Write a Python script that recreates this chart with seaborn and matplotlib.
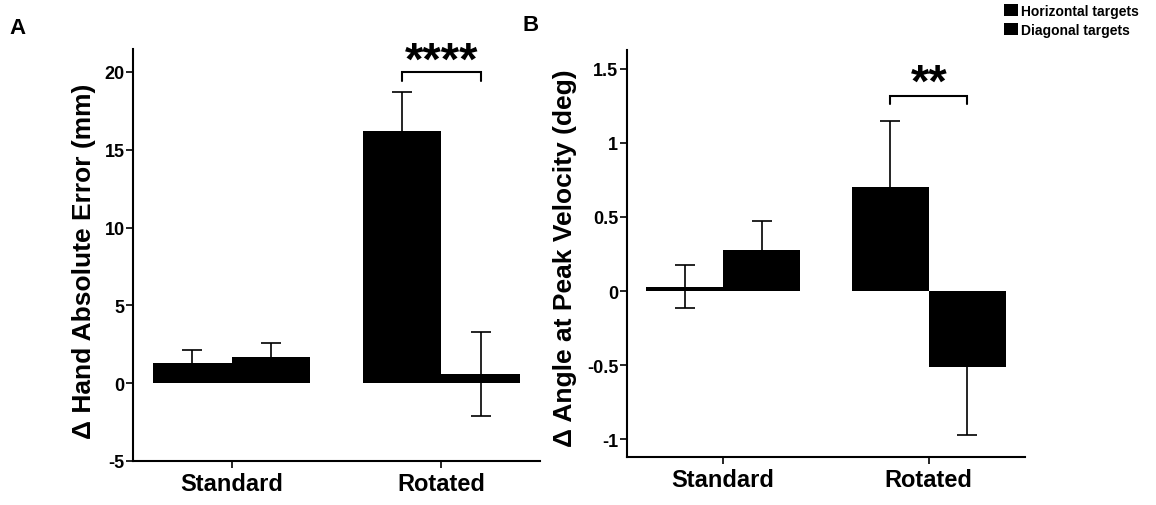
import numpy as np
import pandas as pd
import matplotlib
matplotlib.use("Agg")
import matplotlib.pyplot as plt
import seaborn as sns
from matplotlib.ticker import FuncFormatter

# data
conditions = ["Standard", "Rotated"]
targets = ["Horizontal targets", "Diagonal targets"]

err_horiz = [1.3, 16.2]
err_diag = [1.7, 0.6]
err_horiz_sem = [0.8, 2.5]
err_diag_sem = [0.9, 2.7]

ang_horiz = [0.03, 0.70]
ang_diag = [0.28, -0.51]
ang_horiz_sem = [0.145, 0.45]
ang_diag_sem = [0.19, 0.46]

stars_A = "****"
stars_B = "**"

sns.set_style("ticks")
plt.rcParams["font.family"] = ["Liberation Sans", "DejaVu Sans"]
plt.rcParams["font.weight"] = "bold"
plt.rcParams["axes.unicode_minus"] = False
for k in ["text.color", "axes.labelcolor", "xtick.color", "ytick.color",
          "axes.edgecolor"]:
    plt.rcParams[k] = "black"

fig = plt.figure(figsize=(11.56, 5.06), dpi=100)
axA = fig.add_axes([0.115, 0.087, 0.352, 0.815])
axB = fig.add_axes([0.542, 0.095, 0.345, 0.805])


def make_df(h, d, hs, ds):
    return pd.DataFrame({
        "cond": conditions * 2,
        "target": [targets[0]] * 2 + [targets[1]] * 2,
        "val": h + d,
        "sem": hs + ds,
    })


def panel(ax, df, ylim, yticks, ylabel, stars, br_y, br_drop, star_y, label_xy):
    sns.barplot(data=df, x="cond", y="val", hue="target", hue_order=targets,
                palette=["black", "black"], width=0.75, errorbar=None,
                saturation=1, linewidth=0, ax=ax, legend=True)
    # error bars at the bar centres
    for cont, t in zip(ax.containers, targets):
        sub = df[df.target == t]
        xs = [p.get_x() + p.get_width() / 2 for p in cont.patches]
        ax.errorbar(xs, sub.val.values, yerr=sub["sem"].values, fmt="none",
                    ecolor="black", elinewidth=1.2, capsize=7, capthick=1.2,
                    zorder=1)
    # significance bracket on Rotated
    x1 = ax.containers[0].patches[1]
    x2 = ax.containers[1].patches[1]
    xa = x1.get_x() + x1.get_width() / 2
    xb = x2.get_x() + x2.get_width() / 2
    ax.plot([xa, xa, xb, xb], [br_y - br_drop, br_y, br_y, br_y - br_drop],
            color="black", lw=1.5, solid_joinstyle="miter")
    ax.text((xa + xb) / 2, star_y, stars, ha="center", va="baseline",
            fontsize=34, fontweight="bold")

    ax.set_ylim(*ylim)
    ax.set_xlim(-0.47, 1.47)
    ax.set_yticks(yticks)
    ax.yaxis.set_major_formatter(FuncFormatter(lambda v, p: "%g" % v))
    ax.set_xlabel("")
    ax.set_ylabel(ylabel, fontsize=19, fontweight="bold")
    ax.yaxis.set_label_coords(*label_xy)
    ax.tick_params(axis="y", labelsize=13, length=5, width=1.2, pad=1)
    ax.tick_params(axis="x", labelsize=17, length=5, width=1.2, pad=3)
    for lab in ax.get_xticklabels() + ax.get_yticklabels():
        lab.set_fontweight("bold")
    sns.despine(ax=ax)
    for s in ["left", "bottom"]:
        ax.spines[s].set_linewidth(1.5)


dfA = make_df(err_horiz, err_diag, err_horiz_sem, err_diag_sem)
dfB = make_df(ang_horiz, ang_diag, ang_horiz_sem, ang_diag_sem)

panel(axA, dfA, (-5, 21.5), [-5, 0, 5, 10, 15, 20],
      "\u0394 Hand Absolute Error (mm)", stars_A, 20.0, 0.6, 19.9,
      (-0.091, 0.486))
panel(axB, dfB, (-1.12, 1.63), [-1, -0.5, 0, 0.5, 1, 1.5],
      "\u0394 Angle at Peak Velocity (deg)", stars_B, 1.32, 0.06, 1.32,
      (-0.123, 0.49))

handles, labels = axA.get_legend_handles_labels()
for ax in (axA, axB):
    if ax.get_legend() is not None:
        ax.get_legend().remove()
fig.legend(handles, labels, loc="upper left",
           bbox_to_anchor=(1004 / 1156, 1 - 5 / 506), frameon=False,
           prop={"weight": "bold", "size": 10},
           handlelength=1.0, handleheight=1.0, handletextpad=0.2,
           labelspacing=0.35, borderpad=0, borderaxespad=0)

fig.text(9 / 1156, 1 - 34 / 506, "A", fontsize=16, fontweight="bold")
fig.text(522 / 1156, 1 - 31 / 506, "B", fontsize=16, fontweight="bold")

fig.savefig("out.png", dpi=100)
